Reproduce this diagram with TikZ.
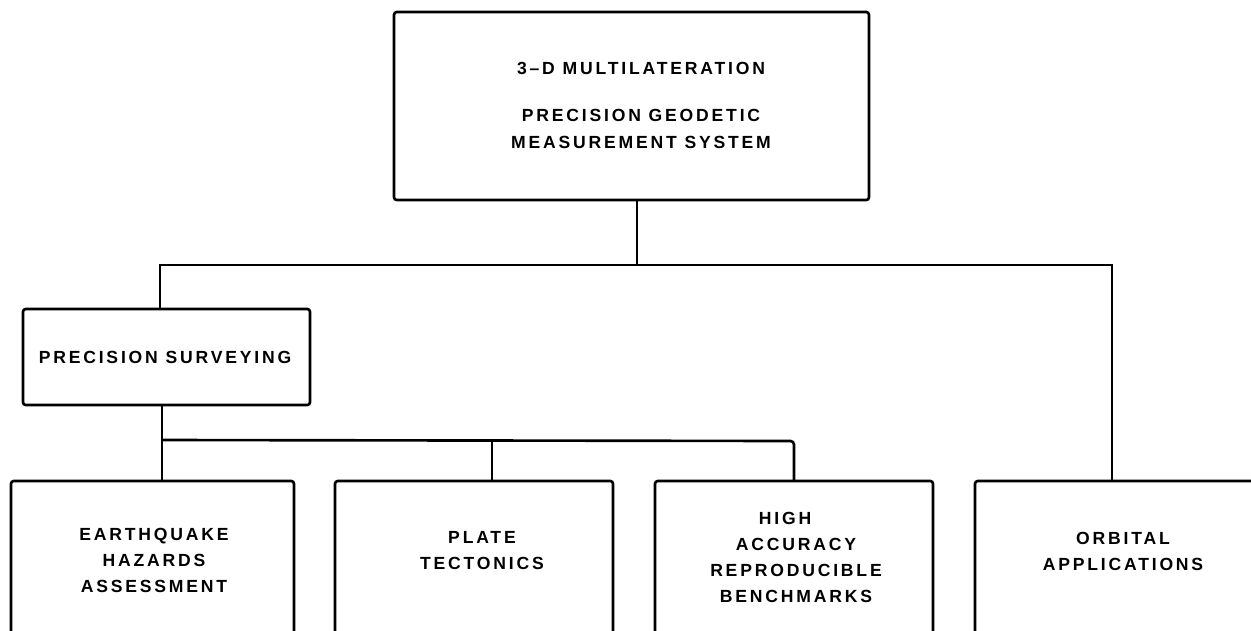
\documentclass[tikz,border=0pt]{standalone}
\usepackage{fontspec}
\newfontfamily\labfont{Liberation Sans}[LetterSpace=16]
\begin{document}
\begin{tikzpicture}[x=0.02cm,y=-0.02cm,line width=1.5pt,
  box/.style={draw,rectangle,rounded corners=1.5pt,inner sep=0pt,outer sep=0pt},
  lbl/.style={font=\labfont\bfseries\fontsize{10}{14.8}\selectfont,align=center,inner sep=0pt},
  wire/.style={draw,rounded corners=2pt}]
\useasboundingbox (0,0) rectangle (1251,630);
\clip (0,0) rectangle (1251,630);
% boxes
\node[box,minimum width=9.5cm,minimum height=3.76cm] (top) at (631.5,106) {};
\node[box,minimum width=5.74cm,minimum height=1.92cm] (ps) at (166.5,357) {};
\node[box,minimum width=5.66cm,minimum height=5.58cm] (eq) at (152.5,620.5) {};
\node[box,minimum width=5.56cm,minimum height=5.58cm] (pl) at (474,620.5) {};
\node[box,minimum width=5.56cm,minimum height=5.58cm] (hi) at (794,620.5) {};
\node[box,minimum width=6.3cm,minimum height=5.58cm] (or) at (1132.5,620.5) {};
% texts
\node[lbl] (t1) at (641,68.5) {3–D MULTILATERATION};
\node[lbl] (t2) at (641,129) {PRECISION GEODETIC\\[0.8pt]MEASUREMENT SYSTEM};
\node[lbl] (pst) at (165,357) {PRECISION SURVEYING};
\node[lbl] (eqt) at (154,560) {EARTHQUAKE\\HAZARDS\\ASSESSMENT};
\node[lbl] (plt) at (482,551) {PLATE\\TECTONICS};
\node[lbl] (hit) at (796,557) {HIGH\kern0.44cm\\ACCURACY\\REPRODUCIBLE\\BENCHMARKS};
\node[lbl] (ort) at (1123,551) {ORBITAL\\APPLICATIONS};
% connectors
\coordinate (j0) at (637,265);
\coordinate (jl) at (160,265);
\coordinate (jr) at (1112,265);
\coordinate (k0) at (162,440);
\coordinate (kp) at (492,440);
\coordinate (kr) at (794,441);
\draw (top.south -| j0) -- (j0);
\draw (ps.north -| jl) -- (jl) -- (jr) -- (or.north -| jr);
\draw (ps.south -| k0) -- (eq.north -| k0);
\draw[wire] (k0) -- (kr) -- (hi.north -| kr);
\draw (kp) -- (pl.north -| kp);
\end{tikzpicture}
\end{document}
